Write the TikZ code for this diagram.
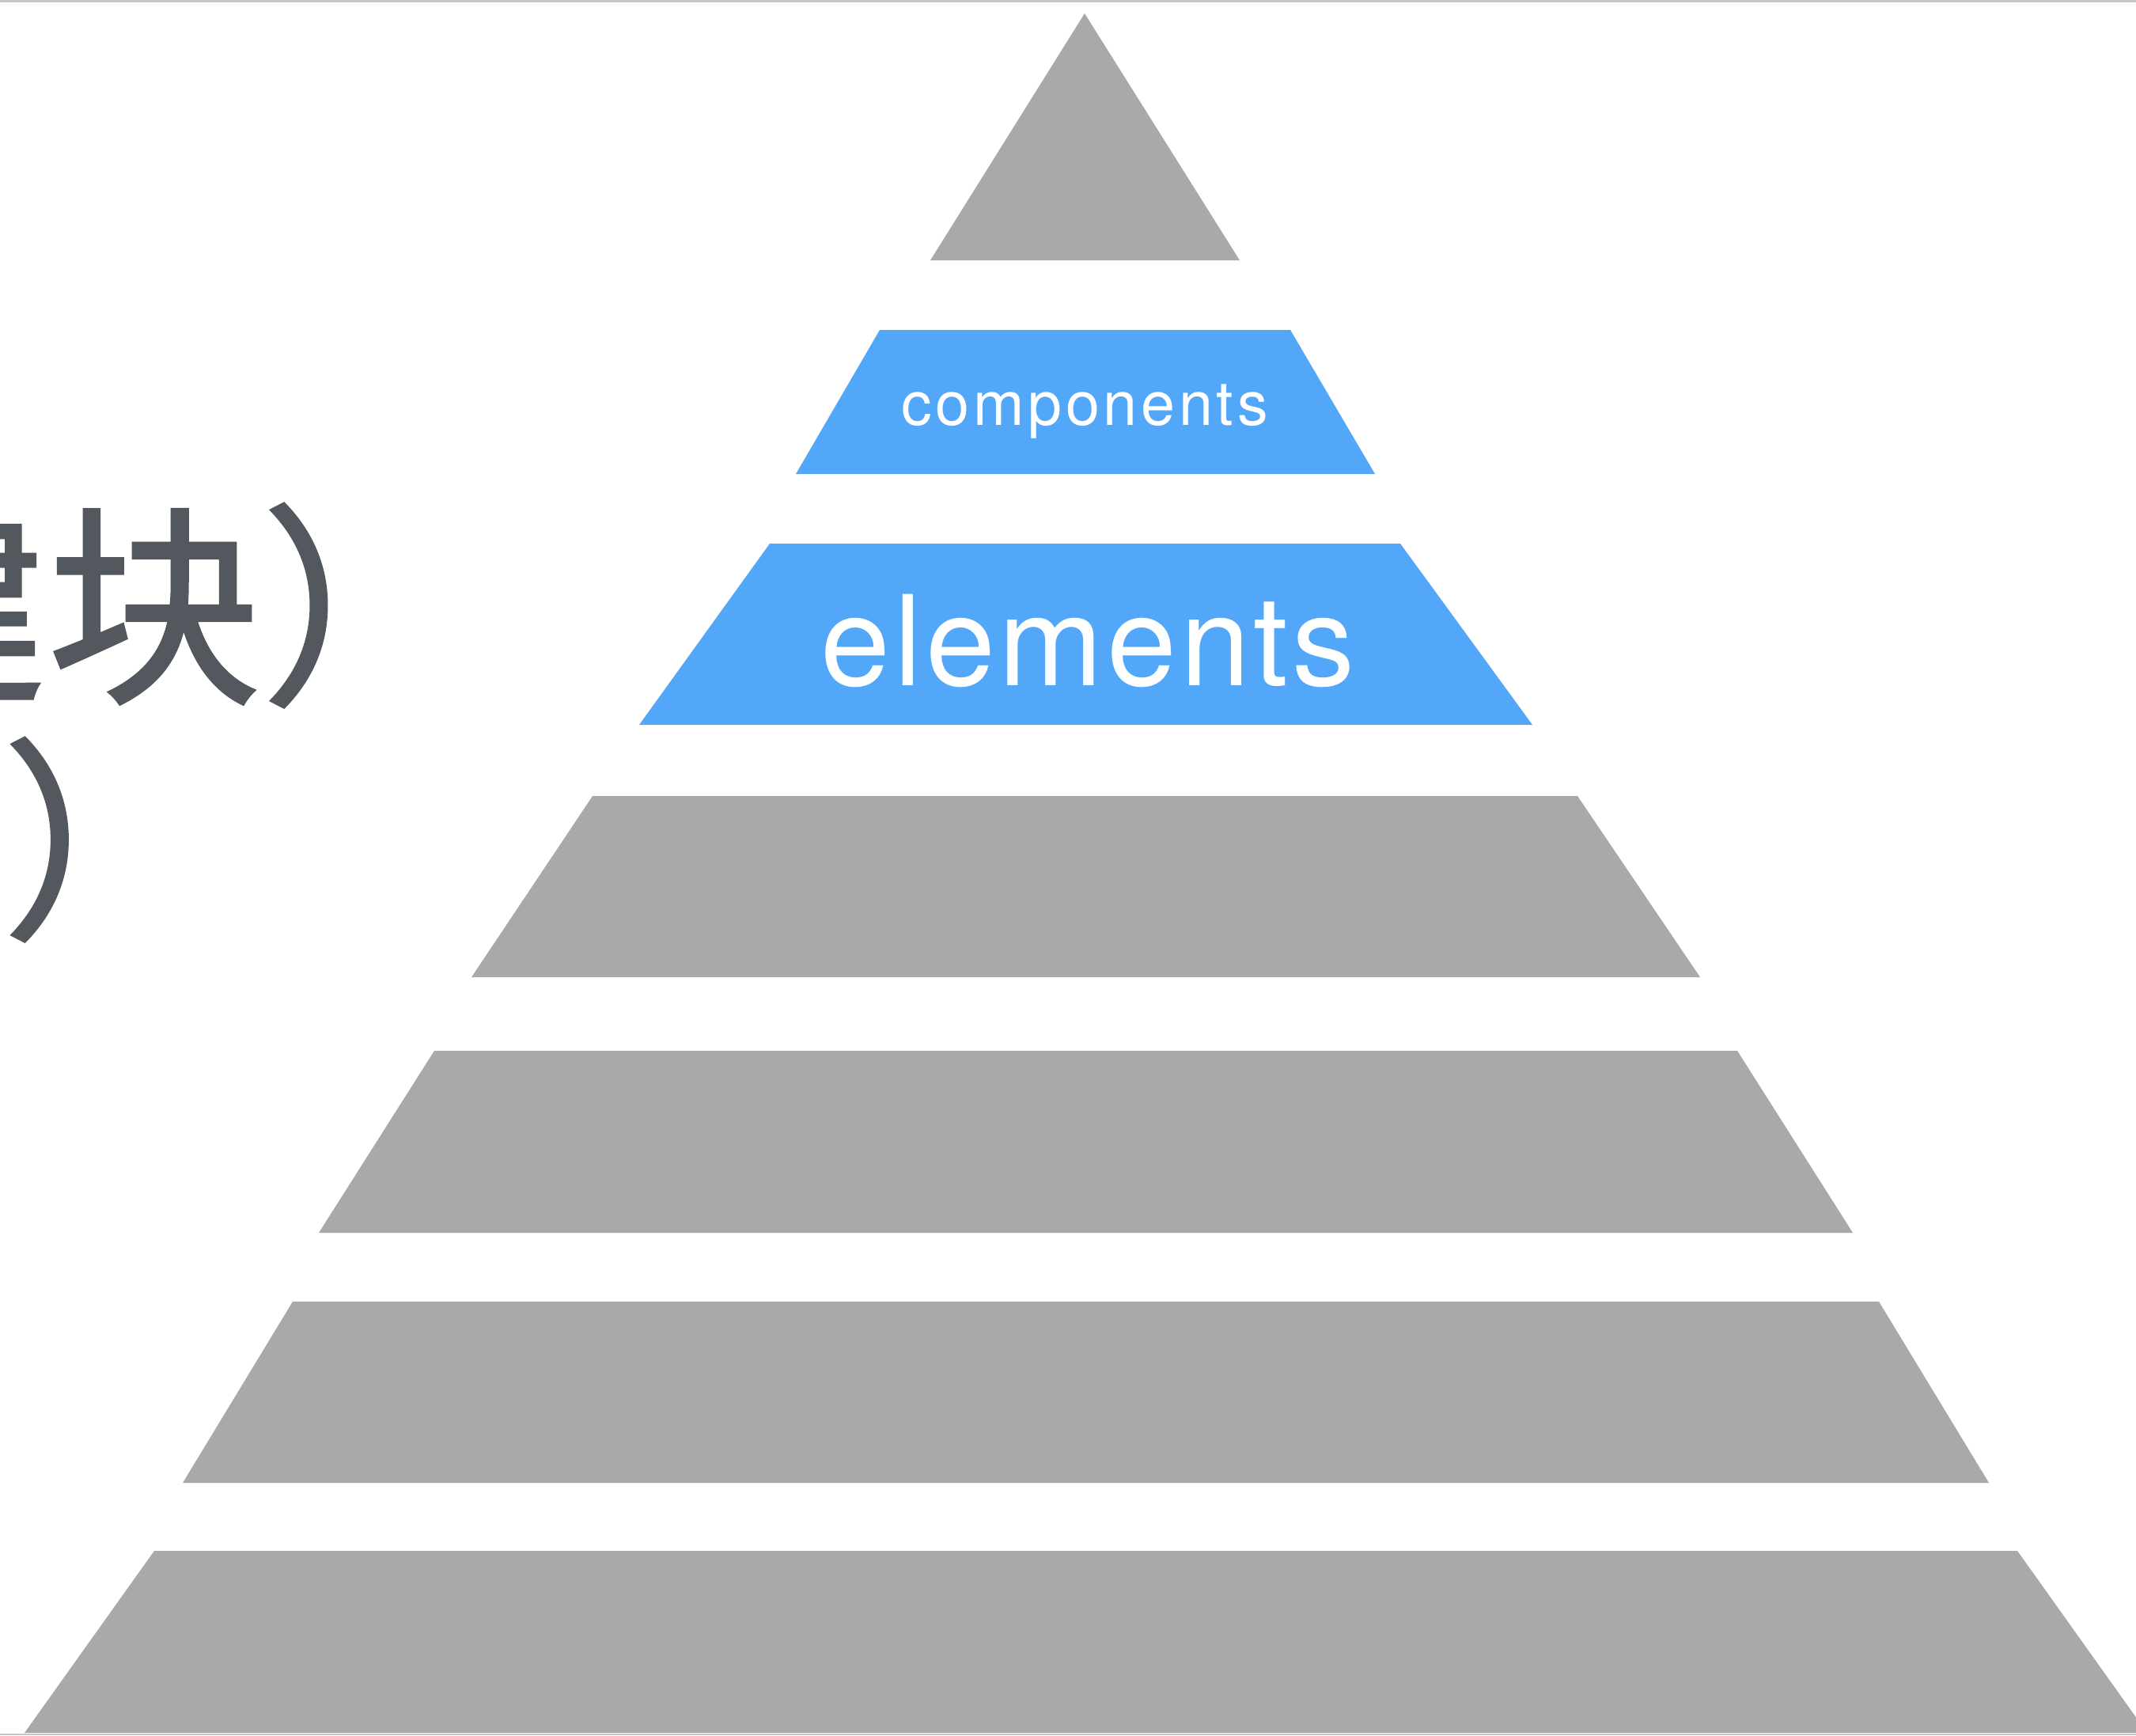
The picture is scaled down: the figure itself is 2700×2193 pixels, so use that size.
\documentclass[tikz,border=0pt]{standalone}
\usepackage{fontspec}
\setmainfont{TeX Gyre Heros}
\newfontfamily\cjkfont[FakeBold=1.2]{Noto Sans CJK SC}
\usepackage{tikz}
\definecolor{layergray}{RGB}{168,169,168}
\definecolor{layerblue}{RGB}{82,167,248}
\definecolor{textgray}{RGB}{83,87,94}
\definecolor{edgegray}{RGB}{196,200,200}

\begin{document}
\begin{tikzpicture}[x=0.01cm,y=-0.01cm,
  graylayer/.style={fill=layergray},
  bluelayer/.style={fill=layerblue},
  cjktext/.style={text=textgray,inner sep=0pt,font=\cjkfont\fontsize{77}{77}\selectfont}]
\path[use as bounding box] (0,0) rectangle (2700,2193);
\clip (0,0) rectangle (2700,2193);
\fill[white] (0,0) rectangle (2700,2193);
\draw[edgegray,line width=1.2pt] (0,1)--(2700,1);
% pyramid, top to bottom
\fill[graylayer] (1371,17)--(1567,329)--(1176,329)--cycle;
\fill[bluelayer] (1112,417)--(1631,417)--(1738,599)--(1006,599)--cycle;
\fill[bluelayer] (973,687)--(1770,687)--(1937,916)--(808,916)--cycle;
\fill[graylayer] (749,1006)--(1994,1006)--(2149,1235)--(596,1235)--cycle;
\fill[graylayer] (549,1328)--(2196,1328)--(2342,1558)--(403,1558)--cycle;
\fill[graylayer] (370,1645)--(2375,1645)--(2514,1874)--(231,1874)--cycle;
\fill[graylayer] (195,1960)--(2550,1960)--(2714,2190)--(31,2190)--cycle;
\draw[edgegray,line width=0.6pt] (0,2192)--(2700,2192);
% labels
\node[text=white,inner sep=0pt,anchor=base,font=\addfontfeatures{LetterSpace=6}\fontsize{22}{22}\selectfont] (comp) at (1371,537) {components};
\node[text=white,inner sep=0pt,anchor=base,font=\addfontfeatures{LetterSpace=3}\fontsize{45}{45}\selectfont] (elem) at (1375,866) {elements};
% cut-off text on the left
\node[cjktext,anchor=base west] (cjka) at (-212,868) {建块）};
\node[cjktext,anchor=base west] (cjkb) at (2,1164) {）};
\end{tikzpicture}
\end{document}
